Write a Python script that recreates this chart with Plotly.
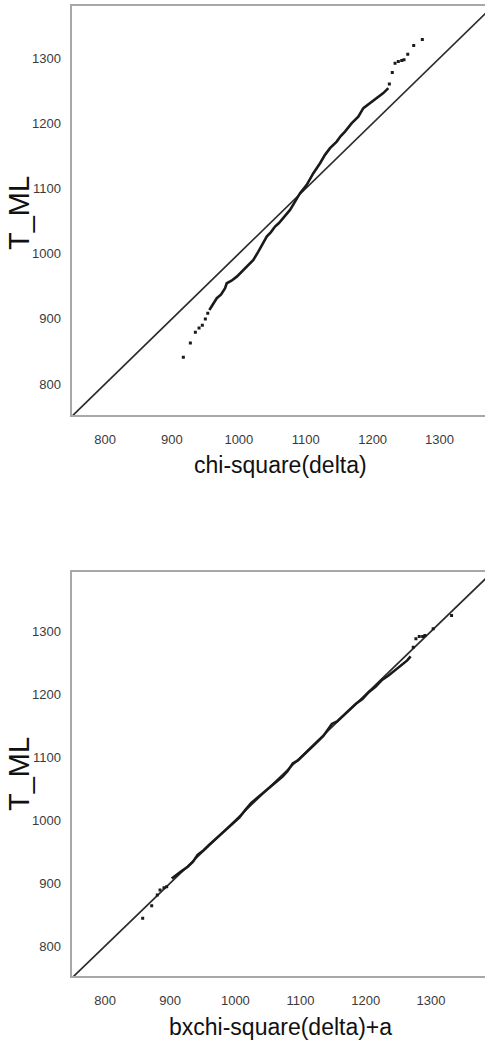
import plotly.graph_objects as go

# ---------------- data ----------------
# Top panel: T_ML vs chi-square(delta) quantiles
top_low_x = [917.0, 927.5, 935.0, 940.5, 945.4, 949.9, 953.5]
top_low_y = [841.0, 862.9, 879.4, 886.0, 890.1, 899.8, 908.5]

top_body_x = [955.9, 961.0, 967.0, 973.5, 979.4, 981.9, 989.0, 996.9, 1004.0, 1011.8,
              1021.7, 1029.1, 1036.6, 1041.7, 1048.0, 1054.1, 1060.0, 1066.5, 1071.0,
              1076.5, 1084.0, 1091.5, 1101.5, 1111.4, 1121.4, 1128.8, 1136.3, 1146.3,
              1152.0, 1158.7, 1168.8, 1178.6, 1186.1, 1196.1, 1206.1, 1216.0, 1223.5]
top_body_y = [913.6, 921.5, 931.6, 937.5, 946.9, 954.6, 958.5, 964.7, 972.0, 979.2,
              990.4, 1003.1, 1016.0, 1026.1, 1033.0, 1041.5, 1047.0, 1054.4, 1060.5,
              1067.1, 1079.9, 1092.8, 1105.5, 1123.5, 1138.8, 1151.6, 1161.8, 1172.0,
              1180.0, 1187.3, 1200.2, 1210.3, 1223.2, 1230.9, 1238.6, 1246.3, 1253.9]

top_high_x = [1225.0, 1229.4, 1233.5, 1238.4, 1243.5, 1246.9, 1252.5, 1261.4, 1274.3]
top_high_y = [1260.5, 1277.9, 1292.3, 1294.8, 1296.3, 1297.4, 1306.1, 1319.3, 1328.5]

# Bottom panel: T_ML vs b x chi-square(delta) + a
bot_low_x = [857.8, 871.6, 880.2, 884.4, 890.5, 894.6]
bot_low_y = [844.0, 864.0, 881.0, 888.9, 892.6, 894.1]

bot_body_x = [902.3, 910.0, 918.0, 927.0, 935.0, 942.0, 950.8, 960.0, 970.0, 980.0,
              990.0, 998.0, 1006.0, 1015.0, 1024.0, 1032.0, 1042.0, 1052.0, 1062.0,
              1072.0, 1080.0, 1088.0, 1096.0, 1105.0, 1115.0, 1125.0, 1135.0, 1142.0,
              1148.0, 1156.0, 1165.0, 1175.0, 1185.0, 1195.0, 1205.0, 1215.0, 1225.0,
              1235.0, 1245.0, 1255.0, 1263.7, 1268.9]
bot_body_y = [907.4, 914.0, 919.5, 926.0, 934.0, 945.0, 952.0, 961.0, 970.5, 979.0,
              989.0, 996.5, 1004.0, 1016.0, 1027.0, 1034.0, 1043.0, 1051.0, 1060.5,
              1069.0, 1078.0, 1090.0, 1095.0, 1104.5, 1115.0, 1124.0, 1134.0, 1144.0,
              1153.0, 1157.0, 1165.5, 1174.0, 1185.0, 1192.5, 1204.0, 1212.0, 1223.0,
              1230.0, 1238.0, 1247.0, 1254.0, 1260.3]

bot_high_x = [1272.9, 1277.0, 1282.1, 1287.3, 1290.8, 1303.5, 1331.7]
bot_high_y = [1275.0, 1288.4, 1292.0, 1292.0, 1293.7, 1304.3, 1325.4]

ref_line = [700, 1450]          # y = x reference line end values
tick_vals = [800, 900, 1000, 1100, 1200, 1300]
tick_text = ["800", "900", "1000", "1100", "1200", "1300"]

top_xrange = [751, 1368]
top_yrange = [752.4, 1380]
bot_xrange = [749.8, 1383]
bot_yrange = [752.4, 1394]

# ---------------- figure ----------------
W, H = 485, 1050
PT_COLOR = "#1a1a1a"
FONT = "Liberation Sans, Arial, sans-serif"

fig = go.Figure()

def add_panel(xa, ya, lx, ly, bx, by, hx, hy):
    fig.add_trace(go.Scatter(x=ref_line, y=ref_line, mode="lines",
                             line=dict(color="#2b2b2b", width=1.7),
                             xaxis=xa, yaxis=ya, showlegend=False, hoverinfo="skip"))
    fig.add_trace(go.Scatter(x=bx, y=by, mode="lines",
                             line=dict(color=PT_COLOR, width=2.6),
                             xaxis=xa, yaxis=ya, showlegend=False))
    fig.add_trace(go.Scatter(x=lx + hx, y=ly + hy, mode="markers",
                             marker=dict(color=PT_COLOR, size=3, symbol="square"),
                             xaxis=xa, yaxis=ya, showlegend=False))

add_panel("x", "y", top_low_x, top_low_y, top_body_x, top_body_y, top_high_x, top_high_y)
add_panel("x2", "y2", bot_low_x, bot_low_y, bot_body_x, bot_body_y, bot_high_x, bot_high_y)

x0 = 72.3 / W
axis_common = dict(
    tickvals=tick_vals, ticktext=tick_text,
    showgrid=False, zeroline=False,
    showline=True, linecolor="#a8a8a8", linewidth=1.6,
    ticks="outside", ticklen=6, tickcolor="rgba(0,0,0,0)",
    tickfont=dict(family=FONT, size=13, color="#3a3a3a"),
)

fig.update_layout(
    width=W, height=H,
    margin=dict(l=0, r=0, t=0, b=0),
    paper_bgcolor="white", plot_bgcolor="white",
    xaxis=dict(domain=[x0, 1], range=top_xrange, anchor="y", mirror=True,
               ticklabelstandoff=6, **axis_common),
    yaxis=dict(domain=[1 - 415 / H, 1 - 6 / H], range=top_yrange, anchor="x",
               mirror=False, ticklabelstandoff=1, **axis_common),
    xaxis2=dict(domain=[x0, 1], range=bot_xrange, anchor="y2", mirror=True,
                ticklabelstandoff=6, **axis_common),
    yaxis2=dict(domain=[1 - 976 / H, 1 - 572.3 / H], range=bot_yrange, anchor="x2",
                mirror=False, ticklabelstandoff=1, **axis_common),
)

title_font = dict(family=FONT, size=23, color="#111111")
ylab_font = dict(family=FONT, size=29, color="#111111")
annotations = [
    dict(text="chi-square(delta)", x=280.8 / W, y=1 - 465 / H),
    dict(text="bxchi-square(delta)+a", x=280.8 / W, y=1 - 1026.7 / H),
]
for a in annotations:
    fig.add_annotation(text=a["text"], x=a["x"], y=a["y"], xref="paper", yref="paper",
                       xanchor="center", yanchor="middle", showarrow=False, font=title_font)
for yc in [1 - 213 / H, 1 - 774 / H]:
    fig.add_annotation(text="T_ML", x=19 / W, y=yc, xref="paper", yref="paper",
                       xanchor="center", yanchor="middle", textangle=-90,
                       showarrow=False, font=ylab_font)

fig.write_html("out.html",
               config={"displayModeBar": False},
               post_script="document.body.style.margin='0';"
                           "document.body.style.overflow='hidden';")
